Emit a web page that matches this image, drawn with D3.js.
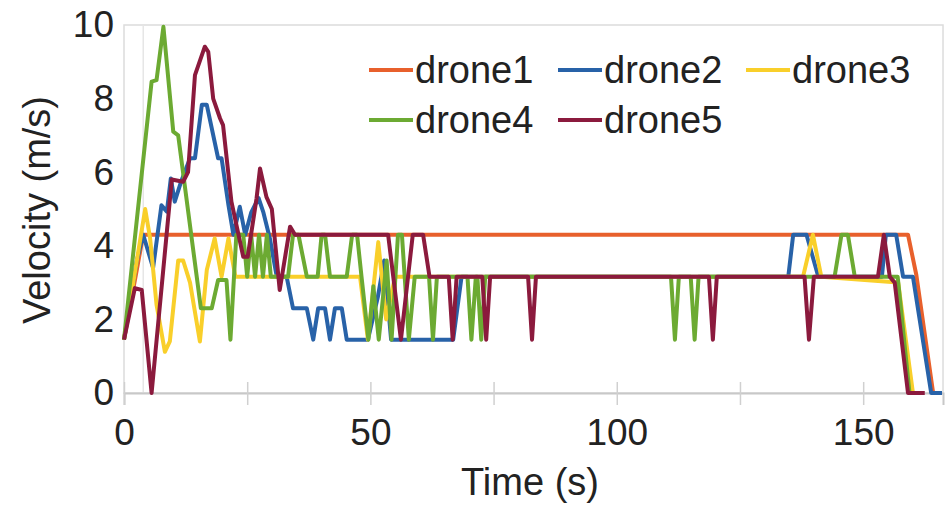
<!DOCTYPE html>
<html>
<head>
<meta charset="utf-8">
<script src="https://cdn.jsdelivr.net/npm/d3@7"></script>
<style>
  body { margin: 0; background: #fff; }
  svg { display: block; font-family: "Liberation Sans", Arial, sans-serif; }
</style>
</head>
<body>
<svg id="chart" width="946" height="506"></svg>
<script>
// drone velocity traces (time s, velocity m/s)
const drone1T = [0, 3.9, 159.1, 160.8, 164.2, 166];
const drone1V = [1.45, 4.3, 4.3, 3.2, 0, 0];

const drone2T = [0, 2.6, 3.9, 5.9, 7.6, 8.7, 9.5, 10.3, 11.6, 13.4, 14.4, 15.8, 16.8, 19.1, 19.8, 21.2, 22.2, 23.5, 24.6, 25.8, 27.3, 28.3, 29.6, 31.0, 33.0, 34.3, 37.1, 38.4, 39.4, 40.8, 41.8, 42.8, 44.2, 45.2, 49.5, 51.5, 52.8, 54.2, 66.8, 68.5, 134.8, 135.8, 138.5, 140.9, 153.8, 154.6, 156.7, 158.1, 160.1, 163.8, 166];
const drone2V = [1.45, 3.6, 4.3, 3.4, 5.1, 4.93, 5.83, 5.2, 5.75, 6.38, 6.38, 7.83, 7.83, 6.38, 6.38, 5.1, 4.3, 5.06, 4.3, 4.9, 5.3, 4.9, 4.2, 3.16, 3.16, 2.3, 2.3, 1.45, 2.3, 2.3, 1.45, 2.3, 2.3, 1.45, 1.45, 2.6, 3.6, 1.45, 1.45, 3.16, 3.16, 4.3, 4.3, 3.16, 3.16, 4.3, 4.3, 3.16, 3.16, 0, 0];

const drone3T = [0, 4.3, 5.3, 6.6, 8.3, 9.3, 11.0, 12.0, 13.4, 15.4, 16.8, 18.4, 19.8, 21.2, 22.6, 47.9, 49.5, 51.6, 53.2, 55.0, 137.8, 139.8, 141.5, 157.1, 160.1, 162];
const drone3V = [1.45, 5.0, 4.2, 2.4, 1.12, 1.4, 3.6, 3.6, 3.0, 1.4, 3.34, 4.2, 3.16, 4.2, 3.16, 3.16, 1.45, 4.1, 2.0, 3.16, 3.16, 4.3, 3.16, 3.0, 0, 0];

const drone4T = [0, 5.6, 6.6, 8.0, 10.0, 11.0, 15.6, 17.8, 19.1, 20.8, 21.6, 22.8, 24.2, 25.0, 25.8, 26.6, 27.4, 28.2, 29.0, 29.8, 33.3, 34.3, 35.4, 37.1, 39.3, 40.1, 40.8, 41.8, 45.2, 46.3, 47.3, 48.2, 49.6, 50.6, 51.7, 53.3, 54.3, 55.6, 56.4, 57.8, 59.0, 61.9, 62.7, 63.5, 69.7, 70.5, 71.4, 71.7, 72.5, 73.3, 111.0, 111.8, 112.6, 115.0, 115.8, 116.6, 144.2, 145.6, 146.9, 148.3, 157.0, 159.4, 161];
const drone4V = [1.45, 8.46, 8.5, 9.95, 7.1, 7.0, 2.3, 2.3, 3.07, 3.07, 1.45, 4.3, 4.3, 3.16, 4.3, 3.16, 4.3, 3.16, 4.3, 3.16, 3.16, 4.3, 4.3, 3.16, 3.16, 4.3, 4.3, 3.16, 3.16, 4.3, 4.3, 3.16, 1.45, 2.9, 1.45, 3.6, 1.45, 4.3, 4.3, 1.45, 3.16, 3.16, 1.45, 3.16, 3.16, 1.45, 3.16, 3.16, 1.45, 3.16, 3.16, 1.45, 3.16, 3.16, 1.45, 3.16, 3.16, 4.3, 4.3, 3.16, 3.16, 0, 0];

const drone5T = [0, 2.2, 3.6, 5.6, 9.7, 12.0, 13.0, 14.4, 16.4, 17.1, 18.1, 19.5, 20.1, 21.8, 24.2, 25.1, 26.9, 27.6, 28.9, 30.0, 31.6, 33.7, 34.7, 53.6, 56.2, 58.6, 60.7, 62.0, 65.9, 66.7, 67.5, 72.7, 73.5, 74.3, 82.0, 82.8, 83.6, 118.7, 119.5, 120.3, 138.1, 139.0, 140.0, 153.0, 154.2, 155.4, 156.4, 159.1, 162.5];
const drone5V = [1.45, 2.85, 2.8, 0, 5.8, 5.74, 6.0, 8.64, 9.41, 9.27, 8.0, 7.46, 7.28, 5.2, 3.7, 3.7, 5.29, 6.1, 5.33, 5.0, 2.8, 4.52, 4.3, 4.3, 1.45, 4.3, 4.3, 3.16, 3.16, 1.45, 3.16, 3.16, 1.45, 3.16, 3.16, 1.45, 3.16, 3.16, 1.45, 3.16, 3.16, 1.45, 3.16, 3.16, 4.3, 3.16, 3.0, 0, 0];

const seriesNames = ["drone1", "drone2", "drone3", "drone4", "drone5"];
const seriesColors = ["#e8602c", "#2862a8", "#f9cf2a", "#6caa32", "#8b1a3d"];
const xTicks = [0, 25, 50, 75, 100, 125, 150];
const xLabels = [0, 50, 100, 150];
const yTicks = [0, 2, 4, 6, 8, 10];

const series = [
  [drone1T, drone1V], [drone2T, drone2V], [drone3T, drone3V],
  [drone4T, drone4V], [drone5T, drone5V]
].map(([t, v], i) => ({ name: seriesNames[i], color: seriesColors[i], pts: t.map((d, j) => [d, v[j]]) }));

const svg = d3.select("#chart");
const mLeft = 124, mRight = 943, mTop = 25, mBottom = 393;

const x = d3.scaleLinear().domain([0, 166.2]).range([mLeft, mRight]);
const y = d3.scaleLinear().domain([0, 10]).range([mBottom, mTop]);

// plot frame
svg.append("rect")
  .attr("x", mLeft).attr("y", mTop)
  .attr("width", mRight - mLeft).attr("height", mBottom - mTop)
  .attr("fill", "none").attr("stroke", "#dcdcdc").attr("stroke-width", 1.5);

// faint vertical line near the start
svg.append("line")
  .attr("x1", x(3.9)).attr("x2", x(3.9))
  .attr("y1", mTop).attr("y2", mBottom)
  .attr("stroke", "#e6e6e6").attr("stroke-width", 1.5);

// x axis
const xAxis = svg.append("g")
  .attr("transform", `translate(0,${mBottom})`)
  .call(d3.axisBottom(x).tickValues(xTicks).tickSize(12)
    .tickFormat(d => xLabels.includes(d) ? d : ""));
xAxis.select(".domain").attr("stroke", "#c8c8c8").attr("stroke-width", 2);
xAxis.selectAll(".tick line").attr("y1", -11).attr("y2", 12)
  .attr("stroke", "#d0d0d0").attr("stroke-width", 1.5);
xAxis.selectAll(".tick text")
  .attr("y", 26).attr("font-size", 37).attr("fill", "#222")
  .attr("font-family", "Liberation Sans, Arial, sans-serif");

// y axis
const yAxis = svg.append("g")
  .attr("transform", `translate(${mLeft},0)`)
  .call(d3.axisLeft(y).tickValues(yTicks).tickSize(0).tickPadding(10));
yAxis.select(".domain").remove();
yAxis.selectAll(".tick text")
  .attr("font-size", 37).attr("fill", "#222")
  .attr("font-family", "Liberation Sans, Arial, sans-serif");

// axis titles
svg.append("text")
  .attr("x", 530).attr("y", 495)
  .attr("text-anchor", "middle")
  .attr("font-size", 38).attr("fill", "#222")
  .text("Time (s)");

svg.append("text")
  .attr("transform", "translate(50,210) rotate(-90)")
  .attr("text-anchor", "middle")
  .attr("font-size", 38).attr("fill", "#222")
  .text("Velocity (m/s)");

// lines
const line = d3.line().x(d => x(d[0])).y(d => y(d[1]));
svg.append("g").selectAll("path")
  .data(series)
  .enter()
  .append("path")
  .attr("d", d => line(d.pts))
  .attr("fill", "none")
  .attr("stroke", d => d.color)
  .attr("stroke-width", 4)
  .attr("stroke-linejoin", "round");

// legend, two rows
const legendPos = [[369, 70], [558, 70], [746, 70], [369, 120], [558, 120]];
const legend = svg.append("g").selectAll("g")
  .data(series)
  .enter()
  .append("g")
  .attr("transform", (d, i) => `translate(${legendPos[i][0]},${legendPos[i][1]})`);
legend.append("line")
  .attr("x1", 0).attr("x2", 44)
  .attr("stroke", d => d.color).attr("stroke-width", 4);
legend.append("text")
  .attr("x", 46).attr("y", 13)
  .attr("font-size", 38).attr("fill", "#222")
  .text(d => d.name);
</script>
</body>
</html>
